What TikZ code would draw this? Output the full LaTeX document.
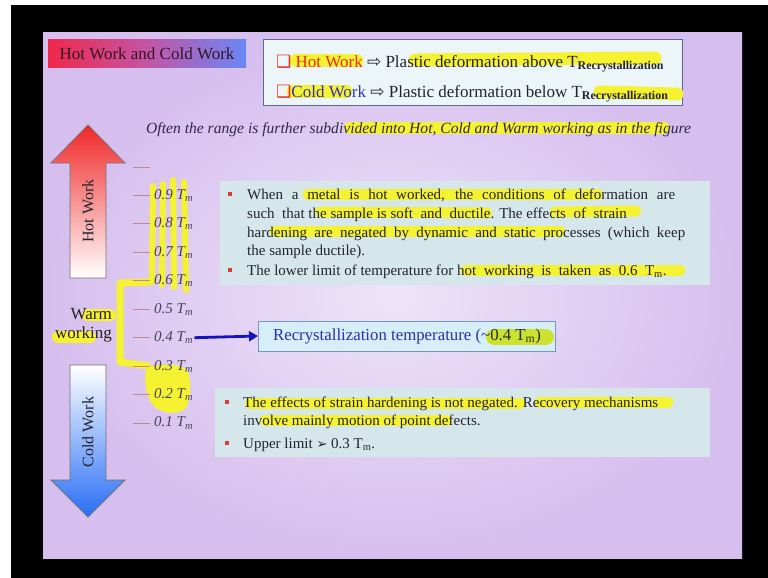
\documentclass[tikz,border=0pt]{standalone}
\usepackage{fontspec}
\setmainfont{Liberation Serif}
\newfontfamily\symfont{DejaVu Sans}
\usetikzlibrary{arrows.meta}
\definecolor{slideA}{RGB}{214,190,238}
\definecolor{slideB}{RGB}{238,228,249}
\definecolor{bodytext}{RGB}{35,35,45}
\definecolor{bulred}{RGB}{220,60,60}
\definecolor{hotred}{RGB}{235,45,35}
\definecolor{coldblue}{RGB}{50,50,190}
\definecolor{boxfill}{RGB}{214,231,235}
\definecolor{topfill}{RGB}{236,246,248}
\definecolor{recfill}{RGB}{214,238,248}
\definecolor{tickc}{RGB}{195,135,145}
\definecolor{labc}{RGB}{70,65,85}
\definecolor{hly}{RGB}{245,242,50}
\definecolor{arrblue}{RGB}{20,20,190}
\tikzset{
  body/.style={anchor=base west, inner sep=0pt, font=\fontsize{15}{18}\selectfont, text=bodytext},
  bul/.style={fill=bulred, minimum size=4.5pt, inner sep=0pt},
  hl/.style={draw=hly, line width=12pt, line cap=round, line join=round},
  tickmark/.style={draw=tickc, line width=1pt},
  lab/.style={anchor=west, inner sep=1pt, font=\fontsize{15}{18}\selectfont\itshape, text=labc},
  bigarrow/.style={draw=black!55, line width=0.8pt},
}
\begin{document}
\begin{tikzpicture}[x=1pt,y=-1pt]
\useasboundingbox (0,0) rectangle (768,578);
\fill[white] (0,0) rectangle (768,578);
\fill[black] (11,5) rectangle (768,578);
\shade[inner color=slideB, outer color=slideA] (43,33) rectangle (742,558);

% title
\shade[left color={rgb,255:red,240;green,40;blue,75}, right color={rgb,255:red,105;green,135;blue,245}, middle color={rgb,255:red,195;green,85;blue,165}] (48,40) rectangle (246,68);
\node[font=\fontsize{17}{20}\selectfont, text={rgb,255:red,55;green,20;blue,35}] (title) at (147,54) {Hot Work and Cold Work};

% box backgrounds
\draw[fill=topfill, draw={rgb,255:red,95;green,105;blue,145}, line width=1pt] (263,40) rectangle (682,105);
\fill[boxfill] (220,181) rectangle (710,285);
\fill[boxfill] (215,388) rectangle (710,457);

% big arrows
\shadedraw[bigarrow, top color={rgb,255:red,240;green,40;blue,40}, bottom color=white] (88,125) -- (125,163) -- (106,163) -- (106,278) -- (70,278) -- (70,163) -- (51,163) -- cycle;
\shadedraw[bigarrow, top color=white, bottom color={rgb,255:red,40;green,110;blue,245}] (70,365) -- (106,365) -- (106,480) -- (125,480) -- (88,517) -- (51,480) -- (70,480) -- cycle;

% recrystallization box
\node[draw={rgb,255:red,120;green,150;blue,190}, fill=recfill, line width=1pt, minimum width=297pt, minimum height=30pt, font=\fontsize{16.8}{19}\selectfont, text={rgb,255:red,40;green,50;blue,165}] (rec) at (407,336) {Recrystallization temperature (\textasciitilde0.4 T\textsubscript{m})};
\begin{scope}[blend mode=multiply]
\draw[hl, line width=16pt] (494,337) -- (546,337);
\end{scope}

% yellow highlighter marks (under the text)
\draw[hl, line width=13pt] (296,61) -- (357,61);
\draw[hl, line width=13pt] (415,60) -- (655,58);
\draw[hl, line width=13pt] (293,91) -- (346,91);
\draw[hl, line width=13pt] (600,92) -- (677,94);
\draw[hl] (350,128) -- (664,128);
\draw[hl, line width=11pt] (308,194) -- (598,194);
\draw[hl, line width=11pt] (320,212) -- (487,213);
\draw[hl, line width=11pt] (555,212) -- (636,211);
\draw[hl, line width=11pt] (275,231) -- (560,231);
\draw[hl, line width=11pt] (466,270) -- (680,270);
\draw[hl, line width=11pt] (250,403) -- (520,403);
\draw[hl, line width=11pt] (540,402) -- (668,402);
\draw[hl, line width=11pt] (265,420) -- (447,420);
\draw[hl, line width=6pt] (153,186) -- (152,282);
\draw[hl, line width=6pt] (163,184) -- (162,285);
\draw[hl, line width=6pt] (173,180) -- (174,287);
\draw[hl, line width=6pt] (184,182) -- (186,290);
\draw[hl, line width=7pt] (150,282) -- (120,283) -- (120,362) -- (148,366);
\fill[hly] (147,368) .. controls (160,362) and (185,364) .. (188,372) .. controls (192,385) and (190,400) .. (186,408) .. controls (178,416) and (160,414) .. (152,404) .. controls (146,395) and (143,378) .. (147,368) -- cycle;
\draw[hl] (88,315) -- (110,315);
\draw[hl] (58,337) -- (90,337);

% arrow labels
\node[rotate=90, font=\fontsize{16}{19}\selectfont, text=bodytext] (hotw) at (88,211) {Hot Work};
\node[rotate=90, font=\fontsize{16}{19}\selectfont, text=bodytext] (coldw) at (88,432) {Cold Work};

% top definition box text
\node[body, font=\fontsize{17}{20}\selectfont] (defhot) at (276,67) {{\symfont\textcolor{hotred}{❑}} \textcolor{hotred}{Hot Work} {\symfont ⇨} Plastic deformation above T\textsubscript{\bfseries Recrystallization}};
\node[body, font=\fontsize{17}{20}\selectfont] (defcold) at (276,97) {{\symfont\textcolor{hotred}{❑}}\textcolor{coldblue}{Cold Work} {\symfont ⇨} Plastic deformation below T\textsubscript{\bfseries Recrystallization}};

% italic note
\node[body, font=\fontsize{15.6}{18}\selectfont\itshape, text={rgb,255:red,50;green,40;blue,70}] (note) at (146,133) {Often the range is further subdivided into Hot, Cold and Warm working as in the figure};

% ticks and labels
\draw[tickmark] (133,167) -- (150,167);
\foreach \k/\v in {1/0.9,2/0.8,3/0.7,4/0.6,5/0.5,6/0.4,7/0.3,8/0.2,9/0.1}{
  \draw[tickmark] (133,{167+28.45*\k}) -- (150,{167+28.45*\k});
  \node[lab] (t\k) at (153,{167+28.45*\k}) {\v\ T\textsubscript{m}};
}

% warm working
\node[anchor=east, align=right, font=\fontsize{17}{19}\selectfont, text={rgb,255:red,40;green,30;blue,30}, inner sep=0pt] (warm) at (112,325) {Warm\\working};

% arrow to recrystallization box
\draw[arrblue, line width=2.8pt, -{Triangle[length=9pt,width=10pt]}] (t6.east) -- (rec.west);

% hot working text
\node[bul] (b1) at (230,194) {};
\node[body] (h1) at (247,199) {\makebox[428pt][s]{When a metal is hot worked, the conditions of deformation are}};
\node[body] (h2) at (247,218) {such \ that the sample is soft \ and \ ductile. The effects \ of \ strain};
\node[body] (h3) at (247,237) {\makebox[438pt][s]{hardening are negated by dynamic and static processes (which keep}};
\node[body] (h4) at (247,255) {the sample ductile).};
\node[bul] (b2) at (230,270) {};
\node[body] (h5) at (247,275) {The lower limit of temperature for hot \ working \ is \ taken \ as \ 0.6 \ T\textsubscript{m}.};

% cold working text
\node[bul] (b3) at (227,402) {};
\node[body] (c1) at (243,407) {The effects of strain hardening is not negated. Recovery mechanisms};
\node[body] (c2) at (243,425) {involve mainly motion of point defects.};
\node[bul] (b4) at (227,443) {};
\node[body] (c3) at (243,448) {Upper limit {\symfont\fontsize{13}{15}\selectfont ➢} 0.3 T\textsubscript{m}.};
\end{tikzpicture}
\end{document}
